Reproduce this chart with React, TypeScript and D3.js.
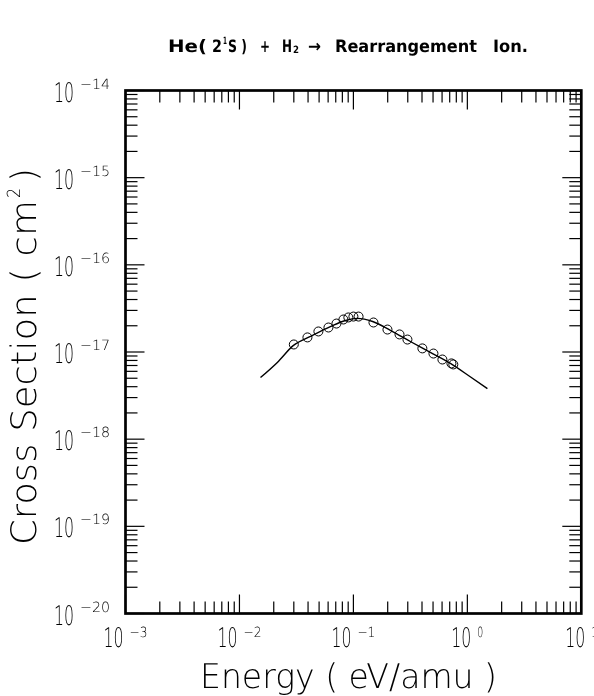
import React from "react";
import * as d3 from "d3";

// ---- data ----
const energies = [0.030, 0.0395, 0.0493, 0.0604, 0.071, 0.0817, 0.0903, 0.100, 0.111, 0.150, 0.199, 0.254, 0.298, 0.403, 0.504, 0.604, 0.725, 0.753];
const sigmas = [1.22e-17, 1.47e-17, 1.72e-17, 1.91e-17, 2.12e-17, 2.36e-17, 2.49e-17, 2.55e-17, 2.55e-17, 2.18e-17, 1.81e-17, 1.59e-17, 1.39e-17, 1.10e-17, 9.6e-18, 8.2e-18, 7.4e-18, 7.2e-18];

const fitEnergies = [0.0153, 0.0215, 0.0298, 0.042, 0.0628, 0.0851, 0.108, 0.1475, 0.211, 0.316, 0.473, 0.710, 1.06, 1.50];
const fitSigmas = [5.1e-18, 7.6e-18, 1.19e-17, 1.51e-17, 1.96e-17, 2.30e-17, 2.43e-17, 2.24e-17, 1.77e-17, 1.32e-17, 9.9e-18, 7.4e-18, 5.2e-18, 3.8e-18];

const xExponents = [-3, -2, -1, 0, 1];
const yExponents = [-20, -19, -18, -17, -16, -15, -14];

const FONT = "'DejaVu Sans', sans-serif";

export default function App() {
  const x = d3.scaleLog().domain([1e-3, 10]).range([125.5, 581.3]);
  const y = d3.scaleLog().domain([1e-20, 1e-14]).range([613.5, 90.5]);
  const [x0, x1] = x.range();
  const [y0, y1] = y.range();

  const xTicks: { v: number; major: boolean }[] = [];
  for (let d = -3; d <= 0; d++) for (let m = 1; m <= 9; m++) xTicks.push({ v: m * Math.pow(10, d), major: m === 1 });
  xTicks.push({ v: 10, major: true });
  const yTicks: { v: number; major: boolean }[] = [];
  for (let d = -20; d <= -15; d++) for (let m = 1; m <= 9; m++) yTicks.push({ v: m * Math.pow(10, d), major: m === 1 });
  yTicks.push({ v: 1e-14, major: true });

  const MAJ = 19, MIN = 12;

  const line = d3
    .line<number>()
    .x((_, i) => x(fitEnergies[i]))
    .y((d) => y(d))
    .curve(d3.curveMonotoneX);

  const sup = (e: number) => (e < 0 ? "\u2212" + Math.abs(e) : String(e));

  return (
    <svg
      width={594}
      height={696}
      style={{ position: "absolute", left: 0, top: 0, background: "#fff", opacity: 0.999, willChange: "transform" }}
      textRendering="geometricPrecision"
    >
      <rect x={0} y={0} width={594} height={696} fill="#fff" />
      {/* title */}
      <g fontFamily={FONT} fontWeight={600} fill="#000">
        <text x={168} y={52} fontSize={17} textLength={39} lengthAdjust="spacingAndGlyphs">He(</text>
        <text x={212} y={52} fontSize={17} textLength={10} lengthAdjust="spacingAndGlyphs">2</text>
        <text x={223} y={44} fontSize={10} textLength={4} lengthAdjust="spacingAndGlyphs">1</text>
        <text x={228} y={52} fontSize={17} textLength={19} lengthAdjust="spacingAndGlyphs">S )</text>
        <text x={260} y={52} fontSize={17} textLength={10} lengthAdjust="spacingAndGlyphs">+</text>
        <text x={282} y={52} fontSize={17} textLength={10} lengthAdjust="spacingAndGlyphs">H</text>
        <text x={293} y={53} fontSize={10} textLength={6} lengthAdjust="spacingAndGlyphs">2</text>
        <text x={308} y={52} fontSize={17} textLength={13} lengthAdjust="spacingAndGlyphs">→</text>
        <text x={335} y={52} fontSize={17} textLength={142} lengthAdjust="spacingAndGlyphs">Rearrangement</text>
        <text x={493} y={52} fontSize={17} textLength={35} lengthAdjust="spacingAndGlyphs">Ion.</text>
      </g>

      {/* ticks */}
      <g stroke="#000" strokeWidth={1.2}>
        {xTicks.map((t, i) => {
          const px = x(t.v);
          const L = t.major ? MAJ : MIN;
          return (
            <g key={"xt" + i}>
              <line x1={px} x2={px} y1={y0} y2={y0 - L} />
              <line x1={px} x2={px} y1={y1} y2={y1 + L} />
            </g>
          );
        })}
        {yTicks.map((t, i) => {
          const py = y(t.v);
          const L = t.major ? MAJ : MIN;
          return (
            <g key={"yt" + i}>
              <line x1={x0} x2={x0 + L} y1={py} y2={py} />
              <line x1={x1} x2={x1 - L} y1={py} y2={py} />
            </g>
          );
        })}
      </g>

      {/* frame */}
      <rect x={x0} y={y1} width={x1 - x0} height={y0 - y1} fill="none" stroke="#000" strokeWidth={2.7} />

      {/* fit curve */}
      <path d={line(fitSigmas) || ""} fill="none" stroke="#000" strokeWidth={1.4} />

      {/* data points */}
      <g fill="none" stroke="#000" strokeWidth={1}>
        {energies.map((e, i) => (
          <circle key={"p" + i} cx={x(e)} cy={y(sigmas[i])} r={4.5} />
        ))}
      </g>

      {/* y tick labels */}
      <g fontFamily={FONT} fontWeight={200} fill="#000">
        {yExponents.map((e) => {
          const py = y(Math.pow(10, e));
          return (
            <g key={"yl" + e}>
              <text x={54} y={py + 11} fontSize={27} textLength={20} lengthAdjust="spacingAndGlyphs">10</text>
              <text x={80} y={py - 2} fontSize={14} textLength={30} lengthAdjust="spacingAndGlyphs">{sup(e)}</text>
            </g>
          );
        })}
      </g>

      {/* x tick labels */}
      <g fontFamily={FONT} fontWeight={200} fill="#000">
        {xExponents.map((e) => {
          const px = x(Math.pow(10, e));
          const sw = e < 0 ? 18 : 6;
          const total = 20 + 6 + sw;
          const sx = px - total / 2;
          return (
            <g key={"xl" + e}>
              <text x={sx} y={647} fontSize={27} textLength={20} lengthAdjust="spacingAndGlyphs">10</text>
              <text x={sx + 26} y={637} fontSize={14} textLength={sw} lengthAdjust="spacingAndGlyphs">{sup(e)}</text>
            </g>
          );
        })}
      </g>

      {/* axis titles */}
      <g fontFamily={FONT} fontWeight={200} fill="#000">
        <text x={200} y={688} fontSize={34} textLength={297} lengthAdjust="spacingAndGlyphs">Energy ( eV/amu )</text>
        <g transform="rotate(-90)">
          <text x={-545} y={36} fontSize={35} textLength={345} lengthAdjust="spacingAndGlyphs">Cross Section ( cm</text>
          <text x={-198} y={20} fontSize={18} textLength={10} lengthAdjust="spacingAndGlyphs">2</text>
          <text x={-182} y={36} fontSize={35} textLength={14} lengthAdjust="spacingAndGlyphs">)</text>
        </g>
      </g>
    </svg>
  );
}
